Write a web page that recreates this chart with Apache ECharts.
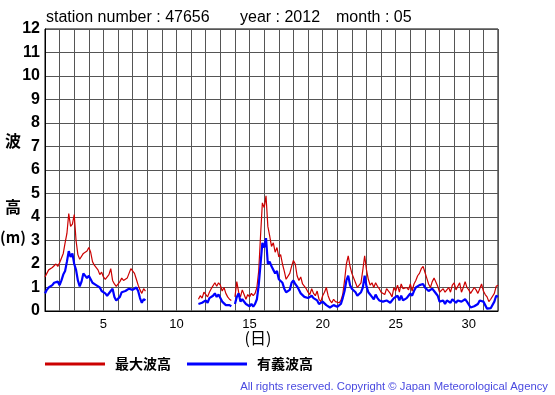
<!DOCTYPE html>
<html>
<head>
<meta charset="utf-8">
<script src="https://cdn.jsdelivr.net/npm/echarts@6/dist/echarts.min.js"></script>
<style>
html,body{margin:0;padding:0;background:#fff;}
#chart{width:555px;height:395px;}
</style>
</head>
<body>
<div id="chart"></div>
<script>
// ---- data (3-hourly readings, day of month) ----
var stepPerDay = 8;
var seg1Start = 1.0;
var maxSeg1 = [1.45,1.6,1.75,1.7,1.85,1.8,2.0,1.9,
  2.05,2.0,2.45,2.9,3.3,4.15,3.6,3.7,
  4.1,3.0,2.4,2.2,2.15,2.45,2.4,2.55,
  2.7,2.5,2.1,1.95,1.9,1.75,1.55,1.65,
  1.45,1.35,1.4,1.55,1.8,1.3,1.15,1.05,
  1.0,1.25,1.4,1.3,1.35,1.4,1.6,1.8,
  1.75,1.6,1.35,1.1,0.9,0.75,0.95,0.85];
var sigSeg1 = [0.75,0.9,1.0,1.05,1.1,1.2,1.15,1.25,
  1.1,1.3,1.55,1.7,2.1,2.55,2.3,2.45,
  2.0,1.75,1.3,1.05,1.25,1.6,1.55,1.4,
  1.5,1.35,1.2,1.25,1.1,1.05,1.0,0.85,
  0.8,0.75,0.65,0.7,0.85,0.95,0.6,0.45,
  0.4,0.6,0.8,0.85,0.85,0.9,0.95,1.0,
  0.9,0.85,1.0,0.85,0.55,0.35,0.5,0.45];
var seg2Start = 11.5;
var maxSeg2 = [0.5,0.65,0.55,0.8,
  0.85,0.6,0.8,0.95,1.0,1.2,1.05,1.2,
  1.1,0.85,1.0,0.75,0.6,0.5,0.45,null,
  0.6,1.25,0.8,0.6,0.9,0.7,0.5,0.7,
  0.6,0.75,0.65,0.75,1.0,1.7,3.2,4.6,
  4.4,4.9,3.6,3.2,2.75,2.9,2.5,2.7,
  2.3,2.4,2.0,1.7,1.35,1.4,1.6,1.9,
  2.15,2.0,1.5,1.3,1.45,1.15,1.2,0.95,
  0.8,0.7,0.95,0.75,0.65,0.85,0.5,0.4,
  0.65,0.8,1.0,0.65,0.45,0.35,0.5,0.4,
  0.45,0.35,0.45,0.7,1.3,2.0,2.35,1.9,
  1.6,1.55,1.2,1.0,1.1,1.2,1.75,2.35,
  1.75,1.35,1.1,1.2,1.0,1.2,1.05,0.95,
  0.8,0.85,0.7,0.95,1.0,0.75,0.6,1.0,
  0.85,1.1,0.8,1.15,0.95,0.9,1.0,0.9,
  1.15,0.85,1.15,1.3,1.5,1.6,1.8,1.9,
  1.65,1.4,1.15,1.0,1.25,1.4,1.35,1.05,
  0.8,0.85,0.95,0.8,0.9,1.0,0.8,1.1,
  1.2,0.9,1.05,1.2,0.8,1.0,1.25,1.0,
  0.9,0.75,0.8,1.0,0.9,0.75,0.95,1.15,
  0.85,0.7,0.6,0.4,0.5,0.45,0.75,1.05,
  1.1];
var sigSeg2 = [0.3,0.25,0.35,0.3,
  0.45,0.35,0.55,0.5,0.65,0.75,0.6,0.7,
  0.55,0.4,0.35,0.25,0.3,0.25,0.2,null,
  0.3,0.6,0.75,0.4,0.5,0.45,0.3,0.25,
  0.2,0.3,0.18,0.3,0.5,1.1,2.0,2.9,
  2.7,3.1,2.0,2.1,1.9,1.75,1.6,1.7,
  1.35,1.4,1.2,0.95,0.8,0.75,0.9,1.2,
  1.3,1.15,1.05,0.9,0.75,0.7,0.6,0.65,
  0.55,0.6,0.65,0.55,0.6,0.45,0.3,0.35,
  0.4,0.45,0.25,0.3,0.15,0.1,0.25,0.3,
  0.18,0.15,0.3,0.55,0.85,1.3,1.5,1.1,
  0.95,0.9,0.8,0.65,0.6,0.8,1.0,1.5,
  1.05,0.8,0.7,0.6,0.5,0.7,0.55,0.45,
  0.5,0.4,0.35,0.45,0.5,0.35,0.3,0.55,
  0.5,0.65,0.45,0.65,0.45,0.5,0.55,0.65,
  0.75,0.65,0.85,1.0,1.05,1.1,1.15,1.15,
  1.0,0.95,0.85,0.85,0.95,0.85,0.8,0.65,
  0.4,0.35,0.45,0.3,0.45,0.5,0.35,0.5,
  0.45,0.35,0.45,0.5,0.4,0.45,0.5,0.4,
  0.45,0.15,0.12,0.2,0.17,0.3,0.45,0.5,
  0.4,0.25,0.1,0.08,0.12,0.15,0.4,0.65,
  0.6];
var xLabelDays = [5,10,15,20,25,30];
var yTicks = [0,1,2,3,4,5,6,7,8,9,10,11,12];
var seriesNames = ['最大波高','有義波高'];

function build(s1, s2){
  var out = [];
  s1.forEach(function(v,i){ out.push([seg1Start + i/stepPerDay, v]); });
  out.push([9.5, null]);
  s2.forEach(function(v,i){ out.push([seg2Start + i/stepPerDay, v]); });
  return out;
}

var chart = echarts.init(document.getElementById('chart'), null, {renderer:'canvas'});
var txt = function(t, x, y, font, fill, align){
  return {type:'text', x:x, y:y, silent:true,
    style:{text:t, x:0, y:0, font:font, fill:fill||'#000',
      align:align||'left', textAlign:align||'left', verticalAlign:'middle', textVerticalAlign:'middle'}};
};
var option = {
  animation:false,
  backgroundColor:'#fff',
  grid:{left:45,right:57,top:29,bottom:84,show:true,borderColor:'#000',borderWidth:1,backgroundColor:'transparent'},
  xAxis:{type:'value',min:1,max:32,interval:1,
    axisLine:{show:true,lineStyle:{color:'#000',width:1}},
    axisTick:{show:false},
    axisLabel:{color:'#000',fontSize:13,fontFamily:'Liberation Sans',margin:7,
      formatter:function(v){return xLabelDays.indexOf(v)>=0?String(v):'';}},
    splitLine:{show:true,lineStyle:{color:'#555',width:1}}},
  yAxis:{type:'value',min:yTicks[0],max:yTicks[yTicks.length-1],interval:1,
    axisLine:{show:true,lineStyle:{color:'#000',width:1}},
    axisTick:{show:false},
    axisLabel:{color:'#000',fontSize:16,fontWeight:'bold',fontFamily:'Liberation Sans',margin:5},
    splitLine:{show:true,lineStyle:{color:'#555',width:1}}},
  legend:{left:45,top:357,padding:0,icon:'rect',itemWidth:60,itemHeight:3,itemGap:16,
    selectedMode:false,
    textStyle:{fontSize:14,fontWeight:'bold',color:'#000',fontFamily:'Noto Sans CJK JP',padding:[0,0,0,5]},
    data:seriesNames},
  series:[
    {name:seriesNames[0],type:'line',showSymbol:false,symbol:'none',connectNulls:false,
     lineStyle:{color:'#cc0000',width:1.2},itemStyle:{color:'#cc0000'},
     data:build(maxSeg1,maxSeg2),z:2},
    {name:seriesNames[1],type:'line',showSymbol:false,symbol:'none',connectNulls:false,
     lineStyle:{color:'#0000ff',width:2.2},itemStyle:{color:'#0000ff'},
     data:build(sigSeg1,sigSeg2),z:3}
  ],
  graphic:[
    txt('station number : 47656', 46, 18, '16px "Liberation Sans"'),
    txt('year : 2012', 240, 18, '16px "Liberation Sans"'),
    txt('month : 05', 336, 18, '16px "Liberation Sans"'),
    txt('波', 13, 141, 'bold 16px "Noto Sans CJK JP"', '#000', 'center'),
    txt('高', 13, 207, 'bold 16px "Noto Sans CJK JP"', '#000', 'center'),
    txt('(m)', 13, 237, 'bold 15px "Noto Sans CJK JP"', '#000', 'center'),
    txt('(日)', 258, 338, '16px "Noto Sans CJK JP"', '#000', 'center'),
    txt('All rights reserved. Copyright © Japan Meteorological Agency', 548, 387, '11.3px "Liberation Sans"', '#4a4ae0', 'right')
  ]
};
chart.setOption(option);
</script>
</body>
</html>
